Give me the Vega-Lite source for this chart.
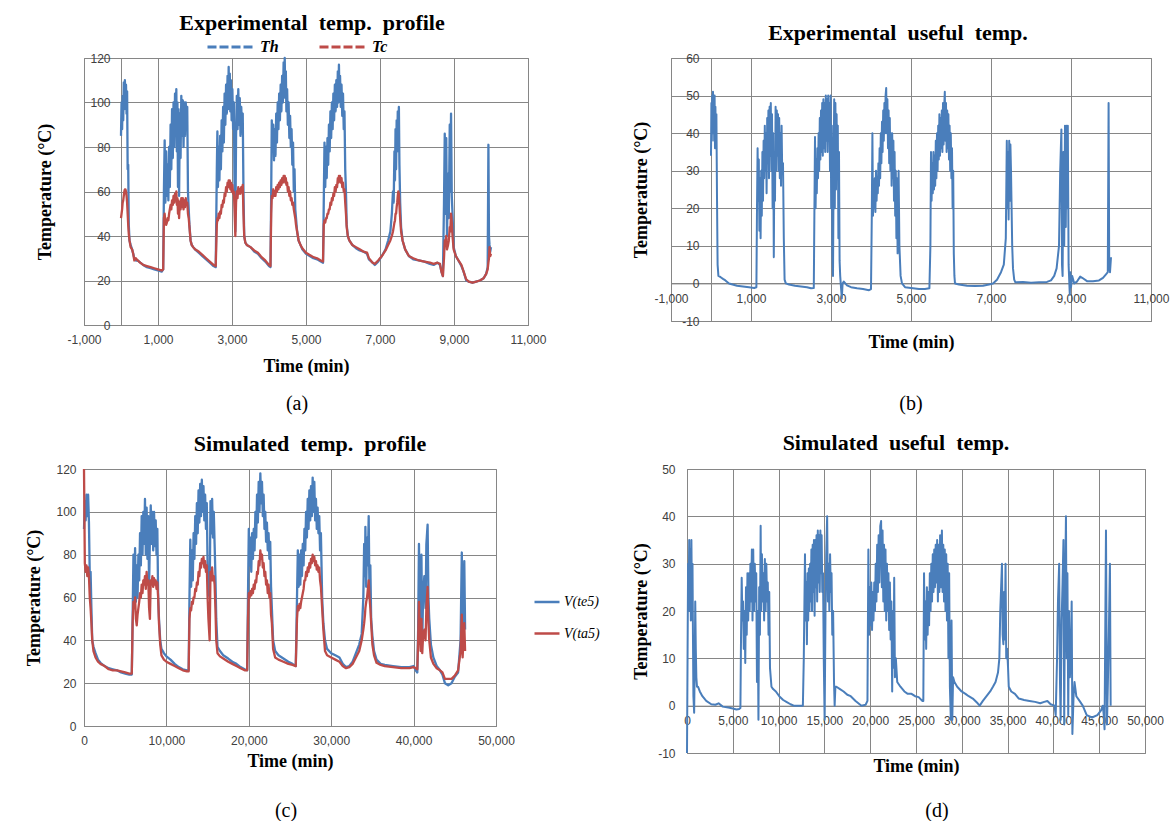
{
"$schema": "https://vega.github.io/schema/vega-lite/v6.json",
"padding": {"left": 25, "top": 11, "right": 0, "bottom": 0},
"background": "white",
"columns": 2,
"spacing": {"row": 10, "column": 31},
"align": {"row": "each", "column": "none"},
"resolve": {"scale": {"color": "independent"}, "legend": {"color": "independent"}},
"datasets": {
"A": [
{"t":0,"Th":85,"Tc":48},{"t":15,"Th":100,"Tc":50},{"t":30,"Th":88,"Tc":52},{"t":45,"Th":103,"Tc":55},{"t":60,"Th":92,"Tc":56},{"t":75,"Th":109,"Tc":58},{"t":90,"Th":97,"Tc":60},{"t":105,"Th":110,"Tc":61},{"t":120,"Th":100,"Tc":61},{"t":135,"Th":108,"Tc":60},{"t":150,"Th":95,"Tc":58},{"t":165,"Th":105,"Tc":55},{"t":180,"Th":70,"Tc":50},{"t":195,"Th":72,"Tc":45},{"t":210,"Th":45,"Tc":41},{"t":230,"Th":38,"Tc":38},{"t":260,"Th":36,"Tc":35},{"t":300,"Th":34,"Tc":34},{"t":330,"Th":32,"Tc":32},{"t":360,"Th":30,"Tc":29},{"t":400,"Th":29,"Tc":30},{"t":450,"Th":29,"Tc":29},{"t":520,"Th":28,"Tc":28},{"t":600,"Th":27,"Tc":27},{"t":700,"Th":26,"Tc":26.5},{"t":800,"Th":25.5,"Tc":26},{"t":900,"Th":25,"Tc":25.5},{"t":1000,"Th":24.5,"Tc":25},{"t":1100,"Th":24,"Tc":24.5},{"t":1140,"Th":25,"Tc":25},
{"t":1160,"Th":60,"Tc":48},{"t":1180,"Th":83,"Tc":50},{"t":1200,"Th":55,"Tc":46},{"t":1220,"Th":78,"Tc":45},{"t":1240,"Th":58,"Tc":46},{"t":1260,"Th":72,"Tc":48},{"t":1280,"Th":56,"Tc":47},{"t":1300,"Th":80,"Tc":50},{"t":1320,"Th":62,"Tc":52},{"t":1340,"Th":90,"Tc":54},{"t":1360,"Th":70,"Tc":52},{"t":1380,"Th":97,"Tc":56},{"t":1400,"Th":75,"Tc":54},{"t":1420,"Th":100,"Tc":58},{"t":1440,"Th":80,"Tc":55},{"t":1460,"Th":104,"Tc":59},{"t":1480,"Th":86,"Tc":56},{"t":1495,"Th":106,"Tc":60},{"t":1510,"Th":78,"Tc":54},{"t":1525,"Th":100,"Tc":57},{"t":1540,"Th":62,"Tc":50},{"t":1555,"Th":97,"Tc":56},{"t":1570,"Th":58,"Tc":48},{"t":1590,"Th":95,"Tc":55},{"t":1610,"Th":75,"Tc":52},{"t":1630,"Th":103,"Tc":57},{"t":1650,"Th":85,"Tc":53},{"t":1670,"Th":101,"Tc":57},{"t":1690,"Th":80,"Tc":52},{"t":1710,"Th":100,"Tc":56},{"t":1730,"Th":85,"Tc":53},{"t":1750,"Th":100,"Tc":57},{"t":1770,"Th":88,"Tc":54},{"t":1790,"Th":98,"Tc":55},{"t":1810,"Th":60,"Tc":50},{"t":1830,"Th":52,"Tc":48},{"t":1850,"Th":45,"Tc":44},{"t":1880,"Th":38,"Tc":38},{"t":1910,"Th":36,"Tc":36},{"t":1950,"Th":35,"Tc":35},{"t":2000,"Th":34,"Tc":34},{"t":2100,"Th":32.5,"Tc":33},{"t":2200,"Th":31,"Tc":31.5},{"t":2300,"Th":29.5,"Tc":30},{"t":2400,"Th":28,"Tc":28.5},{"t":2500,"Th":26.5,"Tc":27},{"t":2560,"Th":26,"Tc":26.5},
{"t":2590,"Th":70,"Tc":45},{"t":2605,"Th":87,"Tc":48},{"t":2620,"Th":62,"Tc":47},{"t":2640,"Th":80,"Tc":50},{"t":2660,"Th":65,"Tc":48},{"t":2680,"Th":85,"Tc":51},{"t":2700,"Th":70,"Tc":50},{"t":2720,"Th":92,"Tc":54},{"t":2740,"Th":78,"Tc":53},{"t":2760,"Th":98,"Tc":56},{"t":2780,"Th":82,"Tc":55},{"t":2800,"Th":104,"Tc":59},{"t":2820,"Th":90,"Tc":58},{"t":2840,"Th":108,"Tc":62},{"t":2860,"Th":95,"Tc":60},{"t":2880,"Th":112,"Tc":64},{"t":2895,"Th":97,"Tc":62},{"t":2910,"Th":116,"Tc":65},{"t":2925,"Th":98,"Tc":62},{"t":2940,"Th":113,"Tc":65},{"t":2955,"Th":96,"Tc":61},{"t":2970,"Th":110,"Tc":64},{"t":2990,"Th":92,"Tc":60},{"t":3010,"Th":106,"Tc":63},{"t":3030,"Th":88,"Tc":59},{"t":3050,"Th":100,"Tc":60},{"t":3070,"Th":60,"Tc":52},{"t":3090,"Th":42,"Tc":40},{"t":3110,"Th":85,"Tc":55},{"t":3130,"Th":103,"Tc":60},{"t":3150,"Th":88,"Tc":57},{"t":3170,"Th":106,"Tc":62},{"t":3190,"Th":90,"Tc":59},{"t":3210,"Th":102,"Tc":61},{"t":3230,"Th":85,"Tc":59},{"t":3250,"Th":98,"Tc":62},{"t":3270,"Th":88,"Tc":60},{"t":3290,"Th":95,"Tc":63},{"t":3310,"Th":60,"Tc":50},{"t":3330,"Th":40,"Tc":40},{"t":3360,"Th":37,"Tc":37},{"t":3400,"Th":36,"Tc":36},{"t":3500,"Th":35,"Tc":35},{"t":3600,"Th":33,"Tc":33.5},{"t":3700,"Th":32,"Tc":32.5},{"t":3800,"Th":30,"Tc":30.5},{"t":3900,"Th":28.5,"Tc":29},{"t":4000,"Th":26.5,"Tc":27},{"t":4040,"Th":26,"Tc":26.5},
{"t":4060,"Th":60,"Tc":50},{"t":4075,"Th":92,"Tc":58},{"t":4095,"Th":78,"Tc":57},{"t":4115,"Th":90,"Tc":61},{"t":4135,"Th":74,"Tc":58},{"t":4155,"Th":88,"Tc":60},{"t":4175,"Th":76,"Tc":58},{"t":4195,"Th":95,"Tc":62},{"t":4215,"Th":82,"Tc":60},{"t":4235,"Th":100,"Tc":63},{"t":4255,"Th":88,"Tc":61},{"t":4275,"Th":104,"Tc":64},{"t":4295,"Th":92,"Tc":62},{"t":4315,"Th":108,"Tc":65},{"t":4335,"Th":96,"Tc":63},{"t":4355,"Th":112,"Tc":66},{"t":4375,"Th":100,"Tc":64},{"t":4395,"Th":118,"Tc":67},{"t":4410,"Th":104,"Tc":65},{"t":4425,"Th":120,"Tc":67},{"t":4440,"Th":102,"Tc":64},{"t":4455,"Th":114,"Tc":66},{"t":4470,"Th":96,"Tc":63},{"t":4490,"Th":106,"Tc":64},{"t":4510,"Th":90,"Tc":60},{"t":4530,"Th":100,"Tc":62},{"t":4550,"Th":84,"Tc":58},{"t":4570,"Th":94,"Tc":60},{"t":4590,"Th":80,"Tc":56},{"t":4610,"Th":88,"Tc":57},{"t":4630,"Th":72,"Tc":54},{"t":4650,"Th":82,"Tc":55},{"t":4670,"Th":60,"Tc":52},{"t":4690,"Th":70,"Tc":50},{"t":4710,"Th":52,"Tc":48},{"t":4730,"Th":48,"Tc":45},{"t":4760,"Th":42,"Tc":42},{"t":4800,"Th":38,"Tc":38},{"t":4850,"Th":36,"Tc":36},{"t":4900,"Th":34,"Tc":34.5},{"t":5000,"Th":32,"Tc":32.5},{"t":5100,"Th":31,"Tc":31.5},{"t":5200,"Th":30,"Tc":30.5},{"t":5300,"Th":29.5,"Tc":30},{"t":5400,"Th":28.5,"Tc":29},{"t":5460,"Th":28,"Tc":28.5},
{"t":5480,"Th":55,"Tc":45},{"t":5500,"Th":82,"Tc":47},{"t":5520,"Th":62,"Tc":46},{"t":5540,"Th":80,"Tc":48},{"t":5560,"Th":66,"Tc":48},{"t":5580,"Th":84,"Tc":50},{"t":5600,"Th":72,"Tc":50},{"t":5620,"Th":90,"Tc":52},{"t":5640,"Th":78,"Tc":52},{"t":5660,"Th":96,"Tc":55},{"t":5680,"Th":84,"Tc":54},{"t":5700,"Th":100,"Tc":57},{"t":5720,"Th":88,"Tc":56},{"t":5740,"Th":104,"Tc":59},{"t":5760,"Th":92,"Tc":58},{"t":5780,"Th":108,"Tc":62},{"t":5800,"Th":96,"Tc":60},{"t":5820,"Th":110,"Tc":63},{"t":5840,"Th":98,"Tc":62},{"t":5860,"Th":114,"Tc":66},{"t":5875,"Th":100,"Tc":64},{"t":5890,"Th":117,"Tc":67},{"t":5905,"Th":102,"Tc":65},{"t":5920,"Th":112,"Tc":67},{"t":5940,"Th":98,"Tc":64},{"t":5960,"Th":108,"Tc":66},{"t":5980,"Th":94,"Tc":62},{"t":6000,"Th":104,"Tc":64},{"t":6020,"Th":88,"Tc":60},{"t":6040,"Th":96,"Tc":61},{"t":6060,"Th":70,"Tc":55},{"t":6080,"Th":60,"Tc":50},{"t":6100,"Th":45,"Tc":44},{"t":6130,"Th":40,"Tc":40},{"t":6170,"Th":38,"Tc":38},{"t":6250,"Th":36,"Tc":36},{"t":6350,"Th":34.5,"Tc":35},{"t":6450,"Th":33.5,"Tc":34},{"t":6550,"Th":33,"Tc":33},{"t":6650,"Th":32,"Tc":32.5},{"t":6700,"Th":29.5,"Tc":30},{"t":6800,"Th":28,"Tc":28},{"t":6860,"Th":27,"Tc":27.5},{"t":6950,"Th":28.5,"Tc":29},{"t":7050,"Th":31,"Tc":31},{"t":7150,"Th":34,"Tc":33.5},{"t":7220,"Th":38,"Tc":36},{"t":7280,"Th":42,"Tc":38},
{"t":7320,"Th":50,"Tc":40},{"t":7350,"Th":60,"Tc":42},{"t":7370,"Th":55,"Tc":44},{"t":7390,"Th":78,"Tc":46},{"t":7405,"Th":65,"Tc":47},{"t":7420,"Th":88,"Tc":50},{"t":7435,"Th":70,"Tc":50},{"t":7450,"Th":92,"Tc":53},{"t":7465,"Th":78,"Tc":55},{"t":7480,"Th":96,"Tc":58},{"t":7495,"Th":85,"Tc":60},{"t":7510,"Th":98,"Tc":59},{"t":7525,"Th":72,"Tc":54},{"t":7545,"Th":55,"Tc":48},{"t":7570,"Th":44,"Tc":42},{"t":7610,"Th":38,"Tc":38},{"t":7680,"Th":34,"Tc":34},{"t":7780,"Th":31,"Tc":31},{"t":7900,"Th":29.5,"Tc":30},{"t":8050,"Th":29,"Tc":29},{"t":8200,"Th":28.5,"Tc":28.5},{"t":8350,"Th":27.5,"Tc":28},{"t":8450,"Th":27,"Tc":27.5},{"t":8550,"Th":28,"Tc":28},{"t":8620,"Th":27,"Tc":27.5},
{"t":8660,"Th":24,"Tc":24},{"t":8700,"Th":22,"Tc":22},{"t":8730,"Th":55,"Tc":30},{"t":8750,"Th":86,"Tc":38},{"t":8770,"Th":50,"Tc":36},{"t":8790,"Th":84,"Tc":40},{"t":8810,"Th":40,"Tc":34},{"t":8840,"Th":68,"Tc":36},{"t":8860,"Th":48,"Tc":38},{"t":8885,"Th":90,"Tc":44},{"t":8900,"Th":60,"Tc":42},{"t":8920,"Th":95,"Tc":50},{"t":8940,"Th":58,"Tc":46},{"t":8960,"Th":50,"Tc":40},{"t":8990,"Th":35,"Tc":34},{"t":9050,"Th":31,"Tc":31},{"t":9120,"Th":29,"Tc":29},{"t":9200,"Th":26.5,"Tc":27},{"t":9260,"Th":24,"Tc":24},{"t":9330,"Th":20,"Tc":20.5},{"t":9400,"Th":19.5,"Tc":19.5},{"t":9500,"Th":19,"Tc":19},{"t":9600,"Th":19.5,"Tc":19.5},{"t":9700,"Th":20,"Tc":20},{"t":9800,"Th":21,"Tc":21},{"t":9870,"Th":23,"Tc":23},{"t":9910,"Th":26,"Tc":25},{"t":9930,"Th":81,"Tc":28},{"t":9945,"Th":40,"Tc":30},{"t":9960,"Th":36,"Tc":35},{"t":9980,"Th":33,"Tc":31},{"t":10000,"Th":35,"Tc":32}
],
"B": [
{"t":0,"u":34},{"t":10,"u":48},{"t":20,"u":38},{"t":30,"u":50},{"t":40,"u":42},{"t":50,"u":51},{"t":60,"u":40},{"t":70,"u":49},{"t":80,"u":38},{"t":90,"u":50},{"t":100,"u":36},{"t":110,"u":47},{"t":120,"u":40},{"t":135,"u":45},{"t":150,"u":23},{"t":165,"u":5},{"t":185,"u":2},{"t":220,"u":1.8},{"t":260,"u":1.5},{"t":300,"u":1.2},{"t":360,"u":0.8},{"t":450,"u":0},{"t":540,"u":-0.3},{"t":650,"u":-0.6},{"t":800,"u":-0.8},{"t":950,"u":-1},{"t":1080,"u":-1.2},{"t":1135,"u":-1},
{"t":1150,"u":20},{"t":1165,"u":36},{"t":1180,"u":22},{"t":1195,"u":33},{"t":1210,"u":14},{"t":1225,"u":28},{"t":1240,"u":12},{"t":1255,"u":30},{"t":1270,"u":18},{"t":1285,"u":35},{"t":1300,"u":22},{"t":1315,"u":38},{"t":1330,"u":28},{"t":1345,"u":42},{"t":1360,"u":30},{"t":1375,"u":40},{"t":1390,"u":24},{"t":1405,"u":44},{"t":1420,"u":32},{"t":1435,"u":46},{"t":1450,"u":28},{"t":1465,"u":47},{"t":1480,"u":34},{"t":1495,"u":48},{"t":1510,"u":30},{"t":1525,"u":45},{"t":1540,"u":20},{"t":1555,"u":40},{"t":1570,"u":7},{"t":1585,"u":35},{"t":1600,"u":22},{"t":1615,"u":47},{"t":1630,"u":30},{"t":1645,"u":46},{"t":1660,"u":34},{"t":1675,"u":45},{"t":1690,"u":30},{"t":1705,"u":44},{"t":1720,"u":28},{"t":1735,"u":40},{"t":1750,"u":26},{"t":1765,"u":42},{"t":1780,"u":30},{"t":1800,"u":32},{"t":1820,"u":12},{"t":1840,"u":1},{"t":1870,"u":0},{"t":1950,"u":-0.3},{"t":2100,"u":-0.6},{"t":2250,"u":-0.8},{"t":2400,"u":-1},{"t":2500,"u":-1.3},{"t":2570,"u":-1.2},
{"t":2585,"u":19},{"t":2600,"u":39},{"t":2615,"u":20},{"t":2630,"u":33},{"t":2645,"u":24},{"t":2660,"u":36},{"t":2675,"u":28},{"t":2690,"u":40},{"t":2705,"u":30},{"t":2720,"u":44},{"t":2735,"u":33},{"t":2750,"u":46},{"t":2765,"u":35},{"t":2780,"u":48},{"t":2795,"u":34},{"t":2810,"u":49},{"t":2825,"u":36},{"t":2840,"u":48},{"t":2855,"u":35},{"t":2870,"u":50},{"t":2885,"u":38},{"t":2900,"u":49},{"t":2915,"u":35},{"t":2930,"u":50},{"t":2945,"u":38},{"t":2960,"u":48},{"t":2975,"u":30},{"t":2990,"u":50},{"t":3005,"u":20},{"t":3020,"u":42},{"t":3035,"u":8},{"t":3050,"u":2},{"t":3065,"u":30},{"t":3080,"u":49},{"t":3095,"u":20},{"t":3110,"u":48},{"t":3125,"u":25},{"t":3140,"u":45},{"t":3155,"u":30},{"t":3170,"u":42},{"t":3185,"u":12},{"t":3200,"u":35},{"t":3215,"u":6},{"t":3230,"u":2},{"t":3250,"u":-1},{"t":3270,"u":-4},{"t":3290,"u":0},{"t":3320,"u":0.5},{"t":3400,"u":-0.5},{"t":3500,"u":-1},{"t":3650,"u":-1.3},{"t":3800,"u":-1.5},{"t":3950,"u":-1.8},{"t":4000,"u":-1.5},
{"t":4020,"u":18},{"t":4035,"u":40},{"t":4050,"u":18},{"t":4065,"u":26},{"t":4080,"u":20},{"t":4095,"u":28},{"t":4110,"u":19},{"t":4125,"u":30},{"t":4140,"u":22},{"t":4155,"u":28},{"t":4170,"u":24},{"t":4185,"u":32},{"t":4200,"u":26},{"t":4215,"u":36},{"t":4230,"u":28},{"t":4245,"u":40},{"t":4260,"u":32},{"t":4275,"u":43},{"t":4290,"u":35},{"t":4305,"u":46},{"t":4320,"u":38},{"t":4335,"u":48},{"t":4350,"u":40},{"t":4365,"u":50},{"t":4380,"u":52},{"t":4395,"u":40},{"t":4410,"u":49},{"t":4425,"u":36},{"t":4440,"u":46},{"t":4455,"u":32},{"t":4470,"u":44},{"t":4485,"u":30},{"t":4500,"u":40},{"t":4515,"u":26},{"t":4530,"u":40},{"t":4545,"u":28},{"t":4560,"u":38},{"t":4575,"u":22},{"t":4590,"u":35},{"t":4605,"u":18},{"t":4620,"u":30},{"t":4635,"u":12},{"t":4650,"u":28},{"t":4665,"u":8},{"t":4690,"u":30},{"t":4710,"u":10},{"t":4740,"u":2},{"t":4775,"u":0},{"t":4850,"u":-1},{"t":5000,"u":-1.2},{"t":5200,"u":-1.5},{"t":5350,"u":-1.5},{"t":5460,"u":-1.3},
{"t":5485,"u":10},{"t":5500,"u":35},{"t":5515,"u":22},{"t":5530,"u":32},{"t":5545,"u":24},{"t":5560,"u":35},{"t":5575,"u":25},{"t":5590,"u":34},{"t":5605,"u":26},{"t":5620,"u":38},{"t":5635,"u":28},{"t":5650,"u":40},{"t":5665,"u":30},{"t":5680,"u":42},{"t":5695,"u":33},{"t":5710,"u":45},{"t":5725,"u":34},{"t":5740,"u":44},{"t":5755,"u":36},{"t":5770,"u":46},{"t":5785,"u":35},{"t":5800,"u":48},{"t":5815,"u":37},{"t":5830,"u":47},{"t":5845,"u":51},{"t":5860,"u":38},{"t":5875,"u":48},{"t":5890,"u":35},{"t":5905,"u":46},{"t":5920,"u":36},{"t":5935,"u":45},{"t":5950,"u":33},{"t":5965,"u":42},{"t":5980,"u":30},{"t":5995,"u":40},{"t":6010,"u":28},{"t":6025,"u":36},{"t":6040,"u":20},{"t":6055,"u":30},{"t":6070,"u":8},{"t":6085,"u":2},{"t":6100,"u":0},{"t":6200,"u":-0.3},{"t":6400,"u":-0.6},{"t":6600,"u":-0.7},{"t":6800,"u":-0.6},{"t":6950,"u":-0.3},{"t":7050,"u":0},{"t":7150,"u":1},{"t":7250,"u":3},{"t":7320,"u":5},
{"t":7370,"u":12},{"t":7395,"u":38},{"t":7410,"u":20},{"t":7425,"u":35},{"t":7440,"u":17},{"t":7455,"u":38},{"t":7470,"u":22},{"t":7485,"u":37},{"t":7500,"u":30},{"t":7515,"u":20},{"t":7530,"u":10},{"t":7550,"u":4},{"t":7580,"u":1},{"t":7610,"u":0.3},{"t":7800,"u":0.4},{"t":8000,"u":0.2},{"t":8200,"u":0.3},{"t":8400,"u":0.4},{"t":8500,"u":0.8},{"t":8580,"u":2},{"t":8640,"u":4},{"t":8700,"u":10},{"t":8730,"u":30},{"t":8760,"u":41},{"t":8775,"u":5},{"t":8790,"u":2},{"t":8810,"u":35},{"t":8830,"u":10},{"t":8850,"u":42},{"t":8870,"u":15},{"t":8890,"u":42},{"t":8905,"u":20},{"t":8920,"u":42},{"t":8940,"u":5},{"t":8970,"u":-3},{"t":8985,"u":3},{"t":9000,"u":-1},{"t":9030,"u":2},{"t":9080,"u":0},{"t":9150,"u":0.5},{"t":9230,"u":1.8},{"t":9280,"u":1.5},{"t":9400,"u":0.6},{"t":9550,"u":0.6},{"t":9700,"u":0.8},{"t":9800,"u":1.5},{"t":9880,"u":2.5},{"t":9920,"u":3},{"t":9940,"u":48},{"t":9955,"u":5},{"t":9975,"u":3},{"t":10000,"u":7}
],
"C": [
{"t":0,"te5":92,"ta5":120},{"t":100,"te5":105,"ta5":76},{"t":200,"te5":96,"ta5":72},{"t":300,"te5":108,"ta5":75},{"t":400,"te5":98,"ta5":70},{"t":500,"te5":108,"ta5":74},{"t":600,"te5":95,"ta5":70},{"t":700,"te5":70,"ta5":60},{"t":800,"te5":72,"ta5":55},{"t":900,"te5":55,"ta5":48},{"t":1000,"te5":40,"ta5":40},{"t":1150,"te5":37,"ta5":35},{"t":1400,"te5":34,"ta5":32},{"t":1700,"te5":31,"ta5":30},{"t":2000,"te5":29.5,"ta5":29},{"t":2500,"te5":28,"ta5":28},{"t":3000,"te5":27,"ta5":26.5},{"t":3500,"te5":26.5,"ta5":26},{"t":4000,"te5":26,"ta5":26},{"t":4500,"te5":25,"ta5":25.5},{"t":5000,"te5":24.5,"ta5":25},{"t":5500,"te5":24,"ta5":24.5},{"t":5800,"te5":24,"ta5":24.5},
{"t":5900,"te5":50,"ta5":48},{"t":6000,"te5":80,"ta5":58},{"t":6100,"te5":60,"ta5":55},{"t":6200,"te5":83,"ta5":60},{"t":6300,"te5":58,"ta5":50},{"t":6400,"te5":75,"ta5":47},{"t":6500,"te5":60,"ta5":52},{"t":6600,"te5":80,"ta5":55},{"t":6700,"te5":68,"ta5":58},{"t":6800,"te5":90,"ta5":62},{"t":6900,"te5":75,"ta5":60},{"t":7000,"te5":98,"ta5":66},{"t":7100,"te5":80,"ta5":62},{"t":7200,"te5":100,"ta5":68},{"t":7300,"te5":85,"ta5":66},{"t":7400,"te5":106,"ta5":70},{"t":7500,"te5":80,"ta5":64},{"t":7600,"te5":102,"ta5":72},{"t":7700,"te5":78,"ta5":66},{"t":7800,"te5":98,"ta5":68},{"t":7900,"te5":65,"ta5":55},{"t":8000,"te5":88,"ta5":50},{"t":8100,"te5":103,"ta5":68},{"t":8200,"te5":85,"ta5":66},{"t":8300,"te5":100,"ta5":70},{"t":8400,"te5":82,"ta5":65},{"t":8500,"te5":100,"ta5":69},{"t":8600,"te5":84,"ta5":66},{"t":8700,"te5":96,"ta5":68},{"t":8800,"te5":80,"ta5":64},{"t":8900,"te5":92,"ta5":67},{"t":9000,"te5":60,"ta5":60},{"t":9100,"te5":50,"ta5":48},{"t":9250,"te5":40,"ta5":38},{"t":9400,"te5":36,"ta5":33},{"t":9700,"te5":34,"ta5":31},{"t":10000,"te5":32.5,"ta5":30},{"t":10500,"te5":31,"ta5":29},{"t":11000,"te5":29,"ta5":28},{"t":11500,"te5":27.5,"ta5":27},{"t":12000,"te5":26.5,"ta5":26},{"t":12500,"te5":26,"ta5":25.5},{"t":12700,"te5":26,"ta5":25.5},
{"t":12800,"te5":60,"ta5":50},{"t":12900,"te5":87,"ta5":55},{"t":13000,"te5":65,"ta5":54},{"t":13100,"te5":82,"ta5":58},{"t":13200,"te5":68,"ta5":57},{"t":13300,"te5":90,"ta5":60},{"t":13400,"te5":78,"ta5":60},{"t":13500,"te5":98,"ta5":64},{"t":13600,"te5":85,"ta5":63},{"t":13700,"te5":104,"ta5":67},{"t":13800,"te5":90,"ta5":66},{"t":13900,"te5":110,"ta5":72},{"t":14000,"te5":95,"ta5":70},{"t":14100,"te5":113,"ta5":76},{"t":14200,"te5":98,"ta5":74},{"t":14300,"te5":115,"ta5":78},{"t":14400,"te5":100,"ta5":76},{"t":14500,"te5":112,"ta5":79},{"t":14600,"te5":96,"ta5":74},{"t":14700,"te5":108,"ta5":77},{"t":14800,"te5":92,"ta5":72},{"t":14900,"te5":104,"ta5":75},{"t":15000,"te5":75,"ta5":60},{"t":15100,"te5":62,"ta5":50},{"t":15250,"te5":60,"ta5":40},{"t":15350,"te5":105,"ta5":72},{"t":15450,"te5":90,"ta5":68},{"t":15550,"te5":106,"ta5":74},{"t":15650,"te5":88,"ta5":68},{"t":15750,"te5":100,"ta5":70},{"t":15850,"te5":85,"ta5":66},{"t":15950,"te5":70,"ta5":55},{"t":16050,"te5":50,"ta5":40},{"t":16200,"te5":37,"ta5":34},{"t":16500,"te5":35,"ta5":32.5},{"t":16900,"te5":33,"ta5":31.5},{"t":17500,"te5":31.5,"ta5":30},{"t":18000,"te5":30,"ta5":29},{"t":18500,"te5":29,"ta5":28},{"t":19000,"te5":27.5,"ta5":27},{"t":19500,"te5":26.5,"ta5":26},{"t":19800,"te5":26,"ta5":26},
{"t":19900,"te5":60,"ta5":50},{"t":20000,"te5":92,"ta5":62},{"t":20100,"te5":75,"ta5":60},{"t":20200,"te5":88,"ta5":63},{"t":20300,"te5":72,"ta5":61},{"t":20400,"te5":90,"ta5":64},{"t":20500,"te5":78,"ta5":62},{"t":20600,"te5":92,"ta5":66},{"t":20700,"te5":82,"ta5":64},{"t":20800,"te5":100,"ta5":68},{"t":20900,"te5":88,"ta5":67},{"t":21000,"te5":108,"ta5":72},{"t":21100,"te5":95,"ta5":71},{"t":21200,"te5":114,"ta5":77},{"t":21300,"te5":100,"ta5":75},{"t":21400,"te5":118,"ta5":82},{"t":21500,"te5":104,"ta5":78},{"t":21600,"te5":114,"ta5":80},{"t":21700,"te5":98,"ta5":74},{"t":21800,"te5":108,"ta5":76},{"t":21900,"te5":92,"ta5":70},{"t":22000,"te5":100,"ta5":72},{"t":22100,"te5":86,"ta5":66},{"t":22200,"te5":95,"ta5":68},{"t":22300,"te5":82,"ta5":62},{"t":22400,"te5":90,"ta5":66},{"t":22500,"te5":78,"ta5":60},{"t":22600,"te5":86,"ta5":62},{"t":22700,"te5":65,"ta5":52},{"t":22800,"te5":55,"ta5":48},{"t":22950,"te5":40,"ta5":36},{"t":23200,"te5":35,"ta5":32},{"t":23600,"te5":33,"ta5":31},{"t":24200,"te5":31.5,"ta5":30},{"t":24800,"te5":30,"ta5":29},{"t":25300,"te5":29,"ta5":28.5},{"t":25700,"te5":28,"ta5":28},
{"t":25850,"te5":60,"ta5":50},{"t":25950,"te5":82,"ta5":56},{"t":26050,"te5":65,"ta5":54},{"t":26150,"te5":80,"ta5":57},{"t":26250,"te5":66,"ta5":55},{"t":26350,"te5":82,"ta5":58},{"t":26450,"te5":70,"ta5":60},{"t":26550,"te5":85,"ta5":62},{"t":26650,"te5":75,"ta5":64},{"t":26750,"te5":92,"ta5":68},{"t":26850,"te5":82,"ta5":68},{"t":26950,"te5":100,"ta5":72},{"t":27050,"te5":88,"ta5":70},{"t":27150,"te5":106,"ta5":74},{"t":27250,"te5":92,"ta5":72},{"t":27350,"te5":110,"ta5":76},{"t":27450,"te5":96,"ta5":74},{"t":27550,"te5":112,"ta5":78},{"t":27650,"te5":98,"ta5":76},{"t":27750,"te5":116,"ta5":80},{"t":27850,"te5":100,"ta5":77},{"t":27950,"te5":114,"ta5":79},{"t":28050,"te5":96,"ta5":75},{"t":28150,"te5":106,"ta5":77},{"t":28250,"te5":92,"ta5":73},{"t":28350,"te5":102,"ta5":75},{"t":28450,"te5":90,"ta5":72},{"t":28550,"te5":98,"ta5":74},{"t":28650,"te5":82,"ta5":68},{"t":28750,"te5":90,"ta5":65},{"t":28900,"te5":60,"ta5":55},{"t":29050,"te5":48,"ta5":45},{"t":29250,"te5":40,"ta5":35},{"t":29500,"te5":36,"ta5":33},{"t":30000,"te5":34,"ta5":32},{"t":30500,"te5":33,"ta5":31},{"t":31000,"te5":32,"ta5":30},{"t":31400,"te5":29,"ta5":28},{"t":31800,"te5":27.5,"ta5":27},{"t":32200,"te5":28,"ta5":27.5},{"t":32600,"te5":30,"ta5":29},{"t":33000,"te5":34,"ta5":32},{"t":33400,"te5":38,"ta5":35},{"t":33700,"te5":43,"ta5":40},
{"t":33900,"te5":60,"ta5":45},{"t":34000,"te5":85,"ta5":48},{"t":34100,"te5":70,"ta5":52},{"t":34150,"te5":93,"ta5":55},{"t":34250,"te5":65,"ta5":58},{"t":34350,"te5":88,"ta5":60},{"t":34450,"te5":75,"ta5":64},{"t":34550,"te5":98,"ta5":68},{"t":34650,"te5":60,"ta5":60},{"t":34750,"te5":75,"ta5":55},{"t":34850,"te5":50,"ta5":48},{"t":35000,"te5":42,"ta5":38},{"t":35200,"te5":35,"ta5":33},{"t":35500,"te5":31,"ta5":29.5},{"t":36000,"te5":29,"ta5":28.5},{"t":36500,"te5":28.5,"ta5":28},{"t":37500,"te5":28,"ta5":27.5},{"t":38500,"te5":27.5,"ta5":27},{"t":39500,"te5":27.5,"ta5":27},{"t":40000,"te5":28,"ta5":27.5},{"t":40250,"te5":26,"ta5":27},{"t":40450,"te5":25,"ta5":26.5},
{"t":40550,"te5":45,"ta5":40},{"t":40650,"te5":85,"ta5":58},{"t":40750,"te5":60,"ta5":45},{"t":40850,"te5":45,"ta5":35},{"t":40950,"te5":80,"ta5":50},{"t":41050,"te5":40,"ta5":34},{"t":41150,"te5":60,"ta5":42},{"t":41300,"te5":70,"ta5":45},{"t":41450,"te5":55,"ta5":40},{"t":41550,"te5":85,"ta5":55},{"t":41700,"te5":94,"ta5":65},{"t":41800,"te5":60,"ta5":48},{"t":41900,"te5":50,"ta5":40},{"t":42100,"te5":38,"ta5":32},{"t":42400,"te5":32,"ta5":29},{"t":42800,"te5":28,"ta5":27},{"t":43200,"te5":26,"ta5":26},{"t":43500,"te5":24,"ta5":25},{"t":43800,"te5":20,"ta5":22},{"t":44200,"te5":19,"ta5":22},{"t":44600,"te5":20,"ta5":22},{"t":45000,"te5":23,"ta5":23.5},{"t":45400,"te5":25,"ta5":26},{"t":45700,"te5":40,"ta5":35},{"t":45850,"te5":81,"ta5":52},{"t":45950,"te5":35,"ta5":32},{"t":46050,"te5":60,"ta5":40},{"t":46150,"te5":77,"ta5":48},{"t":46250,"te5":45,"ta5":35}
],
"D": [
{"t":0,"u":-10},{"t":60,"u":10},{"t":120,"u":30},{"t":180,"u":22},{"t":240,"u":35},{"t":300,"u":20},{"t":360,"u":33},{"t":420,"u":18},{"t":480,"u":35},{"t":540,"u":22},{"t":600,"u":30},{"t":650,"u":15},{"t":700,"u":2},{"t":780,"u":-1.5},{"t":850,"u":10},{"t":900,"u":22},{"t":960,"u":12},{"t":1020,"u":6},{"t":1093,"u":4},{"t":1200,"u":4},{"t":1400,"u":3},{"t":1680,"u":2},{"t":2100,"u":1},{"t":2650,"u":0.3},{"t":3100,"u":0.2},{"t":3450,"u":0.5},{"t":3900,"u":-0.2},{"t":4500,"u":-0.4},{"t":5000,"u":-0.6},{"t":5400,"u":-0.8},{"t":5700,"u":-0.7},{"t":5830,"u":-0.5},
{"t":5900,"u":15},{"t":5970,"u":27},{"t":6050,"u":18},{"t":6120,"u":22},{"t":6200,"u":12},{"t":6280,"u":20},{"t":6360,"u":9},{"t":6440,"u":25},{"t":6520,"u":15},{"t":6600,"u":28},{"t":6680,"u":18},{"t":6760,"u":28},{"t":6840,"u":20},{"t":6920,"u":30},{"t":7000,"u":22},{"t":7080,"u":33},{"t":7150,"u":18},{"t":7230,"u":33},{"t":7310,"u":20},{"t":7400,"u":30},{"t":7480,"u":22},{"t":7560,"u":28},{"t":7640,"u":5},{"t":7720,"u":20},{"t":7800,"u":-3},{"t":7880,"u":25},{"t":7960,"u":15},{"t":8040,"u":38},{"t":8100,"u":20},{"t":8180,"u":32},{"t":8260,"u":22},{"t":8340,"u":28},{"t":8420,"u":18},{"t":8500,"u":31},{"t":8580,"u":20},{"t":8660,"u":30},{"t":8740,"u":22},{"t":8820,"u":26},{"t":8900,"u":15},{"t":8980,"u":24},{"t":9060,"u":8},{"t":9140,"u":6},{"t":9220,"u":4},{"t":9400,"u":3.5},{"t":9700,"u":3},{"t":10070,"u":2},{"t":10500,"u":1.2},{"t":10850,"u":0.8},{"t":11300,"u":0.3},{"t":11650,"u":0},{"t":12200,"u":0},{"t":12650,"u":0},
{"t":12750,"u":10},{"t":12880,"u":32},{"t":12950,"u":18},{"t":13020,"u":26},{"t":13090,"u":13},{"t":13160,"u":28},{"t":13230,"u":18},{"t":13300,"u":29},{"t":13370,"u":20},{"t":13440,"u":30},{"t":13510,"u":22},{"t":13580,"u":33},{"t":13650,"u":20},{"t":13720,"u":34},{"t":13790,"u":24},{"t":13860,"u":35},{"t":13930,"u":19},{"t":14000,"u":35},{"t":14070,"u":25},{"t":14140,"u":36},{"t":14210,"u":22},{"t":14280,"u":37},{"t":14350,"u":26},{"t":14420,"u":36},{"t":14490,"u":24},{"t":14560,"u":37},{"t":14630,"u":28},{"t":14700,"u":36},{"t":14770,"u":24},{"t":14850,"u":28},{"t":14930,"u":10},{"t":15026,"u":-3},{"t":15120,"u":20},{"t":15200,"u":32},{"t":15300,"u":40},{"t":15380,"u":22},{"t":15460,"u":30},{"t":15540,"u":20},{"t":15620,"u":32},{"t":15700,"u":24},{"t":15780,"u":28},{"t":15860,"u":15},{"t":15950,"u":20},{"t":16050,"u":5},{"t":16119,"u":0},{"t":16200,"u":4},{"t":16314,"u":4},{"t":16700,"u":3.5},{"t":17095,"u":3},{"t":17500,"u":2.3},{"t":17875,"u":2},{"t":18400,"u":1},{"t":19046,"u":0},{"t":19500,"u":0.2},{"t":19700,"u":1},
{"t":19800,"u":33},{"t":19880,"u":15},{"t":19960,"u":25},{"t":20040,"u":17},{"t":20120,"u":26},{"t":20200,"u":16},{"t":20280,"u":24},{"t":20360,"u":18},{"t":20440,"u":26},{"t":20520,"u":20},{"t":20600,"u":30},{"t":20680,"u":22},{"t":20760,"u":34},{"t":20840,"u":24},{"t":20920,"u":36},{"t":21000,"u":26},{"t":21100,"u":38},{"t":21190,"u":39},{"t":21270,"u":25},{"t":21350,"u":37},{"t":21430,"u":22},{"t":21510,"u":34},{"t":21590,"u":20},{"t":21670,"u":33},{"t":21750,"u":18},{"t":21830,"u":30},{"t":21910,"u":20},{"t":21990,"u":28},{"t":22070,"u":16},{"t":22150,"u":26},{"t":22230,"u":14},{"t":22310,"u":22},{"t":22400,"u":3},{"t":22470,"u":20},{"t":22550,"u":8},{"t":22620,"u":27},{"t":22700,"u":6},{"t":22800,"u":10},{"t":22950,"u":5},{"t":23300,"u":4},{"t":23731,"u":3},{"t":24100,"u":2.5},{"t":24511,"u":2.5},{"t":24900,"u":2},{"t":25291,"u":1.8},{"t":25681,"u":1},
{"t":25800,"u":1},{"t":25877,"u":28},{"t":25950,"u":14},{"t":26030,"u":22},{"t":26110,"u":12},{"t":26190,"u":25},{"t":26270,"u":15},{"t":26350,"u":24},{"t":26430,"u":17},{"t":26510,"u":28},{"t":26590,"u":20},{"t":26670,"u":30},{"t":26750,"u":22},{"t":26830,"u":32},{"t":26910,"u":24},{"t":26990,"u":33},{"t":27070,"u":25},{"t":27150,"u":34},{"t":27230,"u":26},{"t":27310,"u":35},{"t":27390,"u":22},{"t":27470,"u":34},{"t":27550,"u":24},{"t":27633,"u":36},{"t":27720,"u":25},{"t":27829,"u":37},{"t":27900,"u":24},{"t":27980,"u":34},{"t":28060,"u":22},{"t":28140,"u":33},{"t":28220,"u":20},{"t":28300,"u":32},{"t":28380,"u":18},{"t":28460,"u":30},{"t":28540,"u":10},{"t":28620,"u":28},{"t":28700,"u":4},{"t":28804,"u":-3},{"t":28880,"u":18},{"t":28960,"u":-3},{"t":29050,"u":6},{"t":29194,"u":5},{"t":29500,"u":4},{"t":29974,"u":3},{"t":30400,"u":2.5},{"t":30755,"u":2},{"t":31200,"u":1.5},{"t":31731,"u":0.5},{"t":31950,"u":0},{"t":32300,"u":1},{"t":32700,"u":2},{"t":33097,"u":3},{"t":33400,"u":4},{"t":33683,"u":5},{"t":33950,"u":7},{"t":34100,"u":10},
{"t":34200,"u":20},{"t":34385,"u":30},{"t":34460,"u":15},{"t":34540,"u":13},{"t":34620,"u":24},{"t":34700,"u":14},{"t":34775,"u":30},{"t":34850,"u":10},{"t":34950,"u":12},{"t":35049,"u":8},{"t":35127,"u":4},{"t":35400,"u":3},{"t":35800,"u":2.5},{"t":36220,"u":1.5},{"t":36800,"u":1.2},{"t":37391,"u":1},{"t":38000,"u":0.8},{"t":38562,"u":0.5},{"t":39000,"u":0.8},{"t":39342,"u":1},{"t":39700,"u":0.3},{"t":40123,"u":0},
{"t":40250,"u":-2},{"t":40400,"u":10},{"t":40500,"u":22},{"t":40630,"u":30},{"t":40720,"u":5},{"t":40790,"u":-3},{"t":40900,"u":18},{"t":41000,"u":26},{"t":41098,"u":35},{"t":41180,"u":-4},{"t":41250,"u":20},{"t":41371,"u":40},{"t":41450,"u":10},{"t":41530,"u":28},{"t":41620,"u":-2},{"t":41700,"u":20},{"t":41800,"u":6},{"t":41900,"u":10},{"t":41995,"u":22},{"t":42073,"u":-6},{"t":42200,"u":2},{"t":42307,"u":5},{"t":42500,"u":2},{"t":42855,"u":1},{"t":43200,"u":0},{"t":43635,"u":-2},{"t":44220,"u":-2.5},{"t":44800,"u":-2},{"t":45200,"u":-1},{"t":45390,"u":0},{"t":45500,"u":-2},{"t":45585,"u":-5},{"t":45741,"u":37},{"t":45850,"u":-4},{"t":45950,"u":5},{"t":46050,"u":15},{"t":46171,"u":30},{"t":46250,"u":0}
]
},
"concat": [
{
"width": 444, "height": 267,
"title": {"text": "Experimental\u00a0 temp.\u00a0 profile", "dx": 6, "offset": -13},
"data": {"name": "A"},
"transform": [{"fold": ["Th", "Tc"], "as": ["s", "v"]}],
"mark": {"type": "line", "strokeWidth": 2.3, "strokeJoin": "round"},
"encoding": {
"x": {"field": "t", "type": "quantitative", "scale": {"domain": [-1000, 11000], "nice": false, "zero": false},
"axis": {"values": [-1000, 1000, 3000, 5000, 7000, 9000, 11000], "format": ",d", "labelExpr": "replace(datum.label, '\u2212', '-')", "title": "Time (min)", "labelPadding": 9, "titlePadding": 12}},
"y": {"field": "v", "type": "quantitative", "scale": {"domain": [0, 120], "nice": false},
"axis": {"values": [0, 20, 40, 60, 80, 100, 120], "title": "Temperature (\u00b0C)", "offset": -37, "labelPadding": 11, "titlePadding": 35}},
"color": {"field": "s", "type": "nominal", "scale": {"domain": ["Th", "Tc"], "range": ["#4a7ebb", "#be4b48"]},
"legend": {"orient": "none", "legendX": 122, "legendY": -36, "direction": "horizontal", "title": null, "symbolType": "stroke", "symbolSize": 2209, "symbolStrokeWidth": 3, "symbolDash": [9, 3], "labelFont": "Liberation Serif", "labelFontStyle": "italic", "labelFontWeight": "bold", "labelFontSize": 16, "labelColor": "#000000", "labelOffset": 4, "columnPadding": 34}}
}
},
{
"width": 480, "height": 263,
"title": {"text": "Experimental\u00a0 useful\u00a0 temp.", "dx": -13, "offset": 7},
"data": {"name": "B"},
"mark": {"type": "line", "color": "#4a7ebb", "strokeWidth": 2, "strokeJoin": "round"},
"encoding": {
"x": {"field": "t", "type": "quantitative", "scale": {"domain": [-1000, 11000], "nice": false, "zero": false},
"axis": {"values": [-1000, 1000, 3000, 5000, 7000, 9000, 11000], "format": ",d", "labelExpr": "replace(datum.label, '\u2212', '-')", "title": "Time (min)", "offset": -37.6, "labelPadding": 10, "titlePadding": 29}},
"y": {"field": "u", "type": "quantitative", "scale": {"domain": [-10, 60], "nice": false},
"axis": {"values": [-10, 0, 10, 20, 30, 40, 50, 60], "labelExpr": "replace(datum.label, '\u2212', '-')", "title": "Temperature (\u00b0C)", "offset": -40, "labelPadding": 12, "titlePadding": 31}}
}
},
{
"width": 444, "height": 35, "view": {"stroke": null},
"data": {"values": [{"cap": "(a)"}]},
"mark": {"type": "text", "font": "Liberation Serif", "fontSize": 20, "color": "#000000", "dx": -9},
"encoding": {"text": {"field": "cap"}}
},
{
"width": 480, "height": 35, "view": {"stroke": null},
"data": {"values": [{"cap": "(b)"}]},
"mark": {"type": "text", "font": "Liberation Serif", "fontSize": 20, "color": "#000000", "dx": 39},
"encoding": {"text": {"field": "cap"}}
},
{
"width": 412, "height": 257,
"title": {"text": "Simulated\u00a0 temp.\u00a0 profile", "dx": 20, "offset": 7},
"data": {"name": "C"},
"transform": [{"fold": ["te5", "ta5"], "as": ["s", "v"]}],
"mark": {"type": "line", "strokeWidth": 2.3, "strokeJoin": "round"},
"encoding": {
"x": {"field": "t", "type": "quantitative", "scale": {"domain": [0, 50000], "nice": false, "zero": false},
"axis": {"values": [0, 10000, 20000, 30000, 40000, 50000], "format": ",d", "title": "Time (min)", "labelPadding": 9, "titlePadding": 6}},
"y": {"field": "v", "type": "quantitative", "scale": {"domain": [0, 120], "nice": false},
"axis": {"values": [0, 20, 40, 60, 80, 100, 120], "title": "Temperature (\u00b0C)", "labelPadding": 8, "titlePadding": 12}},
"color": {"field": "s", "type": "nominal", "scale": {"domain": ["te5", "ta5"], "range": ["#4a7ebb", "#be4b48"]},
"legend": {"orient": "none", "legendX": 449, "legendY": 119, "direction": "vertical", "title": null, "symbolType": "stroke", "symbolSize": 625, "symbolStrokeWidth": 2.5, "labelFont": "Liberation Serif", "labelFontStyle": "italic", "labelFontSize": 14, "labelColor": "#000000", "labelOffset": 3, "rowPadding": 10.5, "labelExpr": "'V(' + datum.label + ')'"}}
}
},
{
"width": 458, "height": 284,
"title": {"text": "Simulated\u00a0 useful\u00a0 temp.", "dx": -20, "offset": 8},
"data": {"name": "D"},
"mark": {"type": "line", "color": "#4a7ebb", "strokeWidth": 2, "strokeJoin": "round"},
"encoding": {
"x": {"field": "t", "type": "quantitative", "scale": {"domain": [0, 50000], "nice": false, "zero": false},
"axis": {"values": [0, 5000, 10000, 15000, 20000, 25000, 30000, 35000, 40000, 45000, 50000], "format": ",d", "title": "Time (min)", "offset": -47.33, "labelPadding": 10, "titlePadding": 31}},
"y": {"field": "u", "type": "quantitative", "scale": {"domain": [-10, 50], "nice": false},
"axis": {"values": [-10, 0, 10, 20, 30, 40, 50], "labelExpr": "replace(datum.label, '\u2212', '-')", "title": "Temperature (\u00b0C)", "labelPadding": 12, "titlePadding": 7}}
}
},
{
"width": 412, "height": 20, "view": {"stroke": null},
"data": {"values": [{"cap": "(c)"}]},
"mark": {"type": "text", "font": "Liberation Serif", "fontSize": 20, "color": "#000000", "dx": -4, "dy": 14},
"encoding": {"text": {"field": "cap"}}
},
{
"width": 480, "height": 20, "view": {"stroke": null},
"data": {"values": [{"cap": "(d)"}]},
"mark": {"type": "text", "font": "Liberation Serif", "fontSize": 20, "color": "#000000", "dx": 65, "dy": 14},
"encoding": {"text": {"field": "cap"}}
}
],
"config": {
"view": {"stroke": "#868686", "strokeWidth": 1},
"axis": {"labelFont": "Liberation Sans", "labelFontSize": 12, "labelColor": "#404040", "titleFont": "Liberation Serif", "titleFontSize": 18, "titleFontWeight": "bold", "titleColor": "#000000", "gridColor": "#868686", "gridOpacity": 1, "gridWidth": 1, "domainColor": "#868686", "ticks": false, "labelFlush": false, "labelOverlap": false, "labelBound": false},
"title": {"font": "Liberation Serif", "fontSize": 22, "fontWeight": "bold", "color": "#000000", "frame": "group"},
"legend": {"padding": 0}
}
}
